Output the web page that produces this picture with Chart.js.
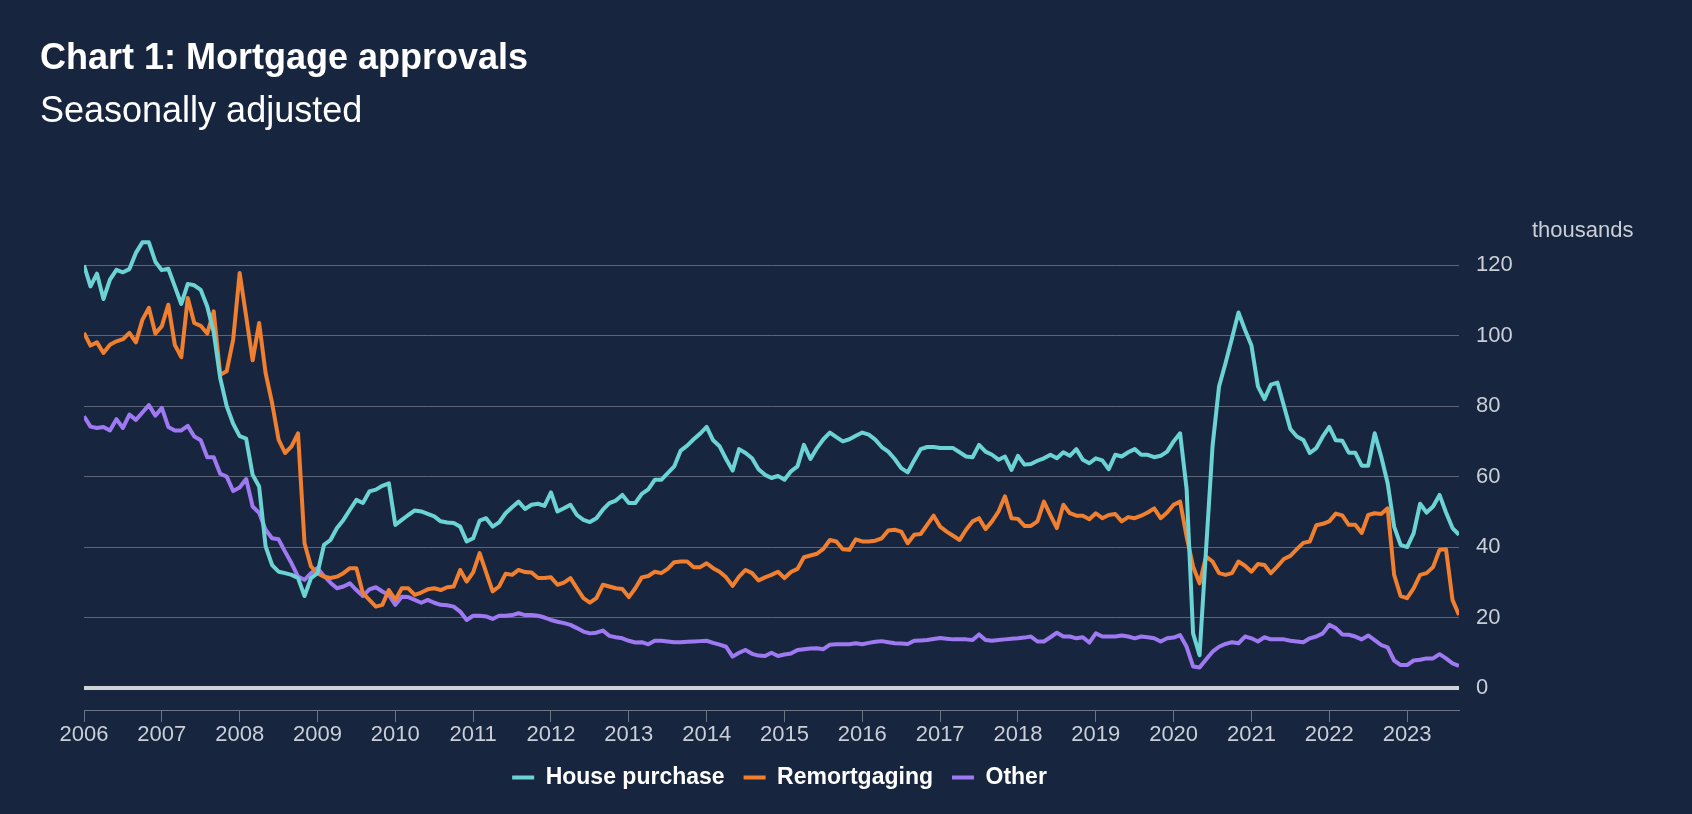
<!DOCTYPE html>
<html>
<head>
<meta charset="utf-8">
<script src="https://cdn.jsdelivr.net/npm/chart.js@4.4.1/dist/chart.umd.min.js"></script>
<style>
  html, body { margin: 0; padding: 0; background: #17263e; }
  #wrap { position: relative; width: 1692px; height: 814px; overflow: hidden; background: #17263e; }
  #wrap canvas { position: absolute; left: 0; top: 0; }
  .txt { position: absolute; font-family: "Liberation Sans", Arial, sans-serif; white-space: nowrap; }
  #title { left: 40px; top: 39px; font-size: 36px; line-height: 36px; font-weight: bold; color: #ffffff; }
  #subtitle { left: 40px; top: 92px; font-size: 36px; line-height: 36px; color: #ffffff; }
  #units { left: 1532px; top: 219px; font-size: 22px; line-height: 22px; color: #c9ced8; }
</style>
</head>
<body>
<div id="wrap">
  <canvas id="chart" width="1692" height="814"></canvas>
  <div class="txt" id="title">Chart 1: Mortgage approvals</div>
  <div class="txt" id="subtitle">Seasonally adjusted</div>
  <div class="txt" id="units">thousands</div>
</div>
<script>
// monthly data, Jan 2006 - Sep 2023 (thousands)
const startYear = 2006;
const seriesNames = ["House purchase", "Remortgaging", "Other"];
const yearTicks = [2006, 2007, 2008, 2009, 2010, 2011, 2012, 2013, 2014, 2015, 2016, 2017, 2018, 2019, 2020, 2021, 2022, 2023];
const yTicks = [0, 20, 40, 60, 80, 100, 120];

const housePurchase = [
  120, 114, 117.6, 110.4, 115.9, 118.7, 118, 118.9, 123.5, 126.5, 126.5, 121,
  118.6, 119, 114, 109, 114.7, 114.3, 113, 108.3, 101, 88, 80, 75,
  71.5, 70.8, 60.5, 57.2, 40.2, 34.9, 33, 32.6, 32.1, 31.2, 26.1, 31.2,
  32.6, 40.6, 42, 45.4, 47.7, 50.6, 53.4, 52.5, 55.8, 56.3, 57.4, 58.1,
  46.3, 47.7, 49.1, 50.4, 50.1, 49.4, 48.7, 47.3, 47, 46.8, 45.8, 41.6,
  42.5, 47.5, 48.2, 45.8, 47, 49.6, 51.3, 52.9, 50.8, 52, 52.3, 51.7,
  55.5, 50.1, 51, 52, 49.1, 47.7, 47.1, 48.2, 50.6, 52.5, 53.2, 54.8,
  52.5, 52.5, 55.1, 56.4, 59.1, 59.1, 61, 62.9, 67.4, 68.8, 70.6, 72.2,
  74.1, 70.3, 68.6, 65, 61.7, 67.8, 66.7, 65.2, 62.1, 60.5, 59.6, 60.2,
  59.1, 61.5, 62.9, 69, 65, 68.1, 70.6, 72.5, 71.2, 70, 70.6, 71.6,
  72.5, 71.9, 70.5, 68.4, 67.1, 65, 62.4, 61.2, 64.6, 67.8, 68.4, 68.4,
  68.1, 68.1, 68.1, 66.9, 65.7, 65.5, 69, 67.1, 66.2, 64.8, 65.7, 61.9,
  65.9, 63.4, 63.6, 64.5, 65.2, 66.2, 65.2, 66.9, 65.9, 67.8, 64.8, 63.8,
  65.2, 64.6, 62.1, 66.2, 65.7, 66.9, 67.8, 66.2, 66.2, 65.5, 65.9, 67.1,
  70, 72.3, 56.5, 15.5, 9.3, 39.2, 68.6, 85.6, 92.2, 99.3, 106.6, 101.7,
  97.2, 85.6, 82, 86.1, 86.7, 80.1, 73.5, 71.4, 70.4, 66.7, 68.1, 71.4,
  74.1, 70.3, 70.2, 66.8, 66.8, 63.1, 63.1, 72.3, 65.7, 58.1, 45.8, 40.6,
  40, 43.9, 52.3, 49.8, 51.5, 54.8, 49.8, 45.4, 43.5
];

const remortgaging = [
  100.8, 97.2, 98.1, 95.1, 97.4, 98.4, 99, 100.8, 98.1, 104.5, 107.9, 100.6,
  102.7, 108.8, 97.4, 93.9, 110.7, 103.6, 102.8, 100.6, 106.9, 88.9, 89.9, 98.9,
  117.8, 105.5, 93, 103.6, 89.4, 80.9, 70.5, 66.7, 68.6, 72.3, 41.1, 34.5,
  32.6, 31.6, 31.2, 31.6, 32.6, 34, 34, 26.9, 25, 23.1, 23.6, 27.8,
  25, 28.3, 28.3, 26.4, 27.1, 28, 28.3, 27.8, 28.6, 28.8, 33.5, 30.2,
  32.8, 38.3, 32.8, 27.4, 28.8, 32.4, 32.1, 33.5, 32.9, 32.8, 31.2, 31.2,
  31.4, 29.3, 29.9, 31.2, 28.3, 25.5, 24.2, 25.5, 29.3, 28.8, 28.3, 28.1,
  25.8, 28.3, 31.4, 31.8, 33, 32.6, 33.8, 35.7, 35.9, 35.9, 34.3, 34.3,
  35.4, 34, 33, 31.4, 29, 31.6, 33.5, 32.6, 30.5, 31.4, 32.1, 33,
  31.2, 32.9, 33.8, 37.1, 37.6, 38.1, 39.5, 42, 41.6, 39.4, 39.2, 42.2,
  41.6, 41.6, 41.8, 42.5, 44.7, 44.9, 44.4, 41.1, 43.5, 43.7, 46.3, 48.9,
  45.8, 44.4, 43.2, 42, 44.9, 47.3, 48.2, 45.1, 47.3, 50.1, 54.4, 48.2,
  48, 46, 46, 47.3, 52.9, 49.1, 45.4, 52, 49.6, 48.9, 48.9, 47.9,
  49.6, 48.2, 49.1, 49.4, 47.3, 48.5, 48.2, 48.9, 49.8, 51, 48.2, 49.8,
  52, 52.9, 43, 34.5, 29.7, 37.3, 35.9, 32.6, 32.1, 32.6, 35.9, 34.7,
  33, 35.2, 34.9, 32.6, 34.5, 36.6, 37.5, 39.4, 41.2, 41.6, 46.2, 46.6,
  47.3, 49.5, 49, 46.3, 46.3, 44, 49.1, 49.6, 49.4, 51, 32.1, 26.1,
  25.5, 28.3, 32.1, 32.6, 34.3, 39.2, 39.4, 25, 20.7
];

const other = [
  77.1, 74.2, 73.8, 74.1, 73.1, 76.3, 73.8, 77.6, 76.1, 78.2, 80.3, 77.3,
  79.5, 74.1, 73.1, 73.1, 74.4, 71.4, 70.3, 65.5, 65.5, 60.8, 60, 55.9,
  56.9, 59.3, 51.5, 49.7, 44.9, 42.5, 42.2, 38.7, 35.4, 31.6, 30.7, 32.6,
  34, 31.8, 29.9, 28.3, 28.8, 29.7, 27.8, 26.1, 28, 28.6, 27.4, 26.4,
  23.6, 25.9, 25.8, 25, 24.2, 25, 24.2, 23.6, 23.5, 23.1, 21.7, 19.3,
  20.5, 20.5, 20.3, 19.6, 20.5, 20.5, 20.7, 21.2, 20.7, 20.7, 20.5, 20,
  19.3, 18.8, 18.4, 17.9, 17, 16, 15.5, 15.7, 16.3, 14.8, 14.4, 14.1,
  13.4, 12.9, 13, 12.4, 13.4, 13.4, 13.2, 13, 13, 13.1, 13.2, 13.3,
  13.4, 12.8, 12.3, 11.7, 8.9, 10, 10.8, 9.7, 9.2, 9.1, 10, 9.1,
  9.5, 9.8, 10.8, 11, 11.2, 11.3, 11, 12.3, 12.4, 12.4, 12.4, 12.7,
  12.4, 12.8, 13.1, 13.3, 13, 12.7, 12.6, 12.5, 13.4, 13.5, 13.6, 13.9,
  14.2, 14, 13.8, 13.8, 13.8, 13.6, 15.2, 13.6, 13.4, 13.6, 13.8, 14,
  14.1, 14.3, 14.6, 13.2, 13.2, 14.4, 15.7, 14.6, 14.6, 14.1, 14.4, 12.9,
  15.5, 14.6, 14.6, 14.6, 14.9, 14.6, 14.1, 14.6, 14.4, 14.1, 13.2, 14.1,
  14.3, 15, 11.7, 6.1, 5.8, 8.1, 10.3, 11.7, 12.5, 13, 12.7, 14.6,
  14.1, 13.2, 14.4, 13.8, 13.8, 13.8, 13.4, 13.2, 13, 14.1, 14.6, 15.5,
  17.9, 17, 15.2, 15.1, 14.6, 13.8, 14.9, 13.6, 12.2, 11.5, 7.8, 6.5,
  6.5, 7.8, 8, 8.4, 8.4, 9.6, 8.4, 7, 6.3
];

const colours = ["#6cd3d5", "#f07f2f", "#9e79f1"];

const toPoints = (values) => values.map((v, i) => ({ x: startYear + i / 12, y: v }));

const FONT = "'Liberation Sans', Arial, sans-serif";

// nudge the legend a little right of the plot centre, as in the original
const legendNudge = {
  id: "legendNudge",
  afterLayout(chart) {
    if (chart.legend) {
      chart.legend.left += 8;
      chart.legend.right += 8;
    }
  },
};

new Chart(document.getElementById("chart"), {
  type: "line",
  data: {
    datasets: [housePurchase, remortgaging, other].map((values, k) => ({
      label: seriesNames[k],
      data: toPoints(values),
      borderColor: colours[k],
      backgroundColor: colours[k],
      borderWidth: 4,
      borderJoinStyle: "round",
      pointRadius: 0,
      tension: 0,
      fill: false,
    })),
  },
  options: {
    responsive: false,
    animation: false,
    devicePixelRatio: 1,
    layout: { padding: { left: 84, top: 230, right: 0, bottom: 15 } },
    scales: {
      x: {
        type: "linear",
        min: startYear,
        max: startYear + (housePurchase.length - 1) / 12,
        afterBuildTicks: (axis) => { axis.ticks = yearTicks.map((v) => ({ value: v })); },
        afterFit: (axis) => { axis.height = 37; },
        grid: { drawOnChartArea: false, drawTicks: true, tickLength: 12, color: "#6b7483", lineWidth: 1 },
        border: { display: true, color: "#6b7483", width: 1 },
        ticks: {
          padding: 0,
          maxRotation: 0,
          autoSkip: false,
          color: "#c9ced8",
          font: { family: FONT, size: 22 },
          callback: (v) => String(v),
        },
      },
      y: {
        position: "right",
        min: -6.25,
        max: 130,
        afterBuildTicks: (axis) => { axis.ticks = yTicks.map((v) => ({ value: v })); },
        afterFit: (axis) => { axis.width = 233; },
        grid: {
          drawTicks: false,
          color: (c) => (c.tick && c.tick.value === 0 ? "#cfd2d7" : "#5d6676"),
          lineWidth: (c) => (c.tick && c.tick.value === 0 ? 4 : 1),
        },
        border: { display: false },
        ticks: {
          padding: 17,
          color: "#c9ced8",
          font: { family: FONT, size: 22 },
        },
      },
    },
    plugins: {
      legend: {
        position: "bottom",
        fullSize: false,
        labels: {
          usePointStyle: true,
          pointStyle: "line",
          pointStyleWidth: 22,
          padding: 19,
          color: "#ffffff",
          font: { family: FONT, size: 23, weight: "bold" },
        },
      },
      tooltip: { enabled: false },
      title: { display: false },
    },
  },
  plugins: [legendNudge],
});
</script>
</body>
</html>
